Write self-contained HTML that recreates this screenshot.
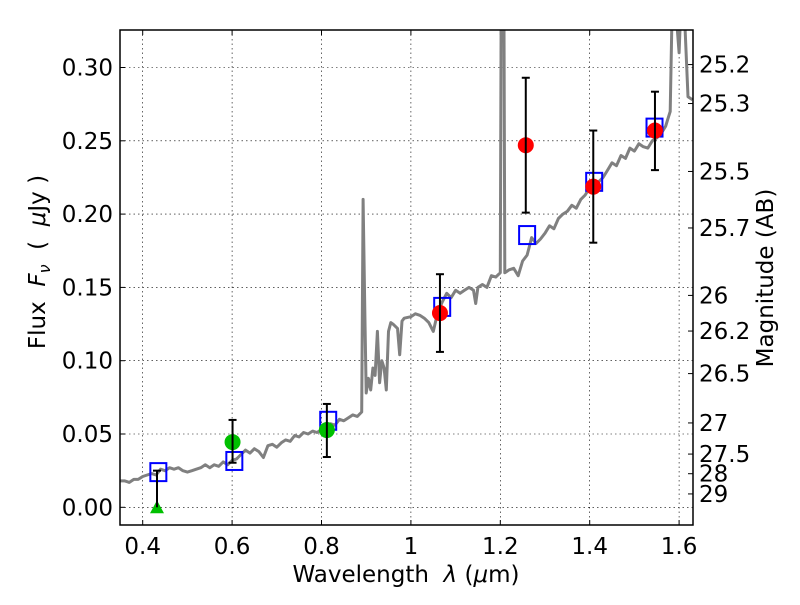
<!DOCTYPE html>
<html><head><meta charset="utf-8"><style>
body{margin:0;background:#fff}
svg text{font-family:"DejaVu Sans","Liberation Sans",sans-serif;fill:#000}
</style></head><body>
<svg id="c" width="800" height="600" xmlns="http://www.w3.org/2000/svg"></svg>
<script>
const specLam=[0.35,0.36,0.37,0.38,0.39,0.40,0.41,0.42,0.43,0.44,0.45,0.46,0.47,0.48,0.49,0.50,0.51,0.52,0.53,0.54,0.55,0.56,0.57,0.58,0.59,0.60,0.61,0.62,0.63,0.64,0.65,0.66,0.67,0.68,0.69,0.70,0.71,0.72,0.73,0.74,0.75,0.76,0.77,0.78,0.79,0.80,0.81,0.82,0.83,0.84,0.85,0.86,0.87,0.88,0.89,0.893,0.897,0.90,0.905,0.91,0.915,0.92,0.925,0.93,0.935,0.94,0.945,0.95,0.955,0.96,0.97,0.975,0.98,0.985,1.0,1.01,1.02,1.03,1.04,1.05,1.06,1.07,1.08,1.09,1.10,1.11,1.12,1.13,1.14,1.145,1.15,1.16,1.17,1.18,1.19,1.20,1.202,1.205,1.208,1.21,1.22,1.23,1.24,1.25,1.26,1.265,1.27,1.28,1.29,1.30,1.31,1.32,1.33,1.34,1.35,1.36,1.37,1.38,1.39,1.40,1.41,1.42,1.43,1.44,1.45,1.46,1.47,1.48,1.49,1.50,1.51,1.52,1.53,1.54,1.55,1.56,1.57,1.575,1.58,1.585,1.59,1.60,1.605,1.61,1.62,1.63];
const specFlux=[0.018,0.018,0.017,0.019,0.019,0.021,0.022,0.023,0.022,0.026,0.025,0.027,0.026,0.027,0.025,0.024,0.025,0.026,0.027,0.029,0.027,0.029,0.028,0.031,0.029,0.032,0.033,0.036,0.039,0.037,0.040,0.038,0.034,0.042,0.043,0.041,0.044,0.046,0.045,0.049,0.048,0.051,0.050,0.052,0.051,0.053,0.055,0.057,0.056,0.060,0.059,0.061,0.063,0.062,0.065,0.21,0.13,0.078,0.088,0.080,0.095,0.090,0.120,0.085,0.100,0.095,0.080,0.120,0.126,0.125,0.122,0.104,0.127,0.129,0.130,0.132,0.131,0.129,0.126,0.120,0.133,0.140,0.146,0.143,0.148,0.146,0.148,0.150,0.148,0.139,0.150,0.152,0.150,0.158,0.157,0.160,0.35,0.35,0.35,0.160,0.162,0.163,0.158,0.168,0.172,0.178,0.184,0.180,0.183,0.187,0.192,0.190,0.197,0.200,0.202,0.206,0.204,0.210,0.213,0.218,0.216,0.222,0.225,0.230,0.235,0.233,0.240,0.238,0.245,0.243,0.248,0.246,0.245,0.250,0.252,0.255,0.260,0.265,0.270,0.35,0.35,0.31,0.35,0.35,0.280,0.278,0.285,0.292,0.288];
const modelLam=[0.435,0.605,0.815,1.07,1.26,1.41,1.545];
const modelFlux=[0.024,0.0316,0.059,0.1367,0.1857,0.222,0.259];
const greenLam=[0.601,0.812];
const greenFlux=[0.0445,0.0527];
const greenLo=[0.0304,0.0343];
const greenHi=[0.0596,0.0705];
const limitLam=[0.432];
const limitFlux=[0.0];
const limitHi=[0.025];
const redLam=[1.065,1.257,1.408,1.546];
const redFlux=[0.1325,0.247,0.2187,0.257];
const redLo=[0.106,0.201,0.1805,0.230];
const redHi=[0.159,0.293,0.257,0.2835];
const xTicks=[0.4,0.6,0.8,1.0,1.2,1.4,1.6];
const xTickLabels=["0.4","0.6","0.8","1","1.2","1.4","1.6"];
const yTicks=[0,0.05,0.10,0.15,0.20,0.25,0.30];
const yTickLabels=["0.00","0.05","0.10","0.15","0.20","0.25","0.30"];
const magTicks=[25.2,25.3,25.5,25.7,26,26.2,26.5,27,27.5,28,29];
const magLabels=["25.2","25.3","25.5","25.7","26","26.2","26.5","27","27.5","28","29"];

const L=120,R=693,T=30,B=525;
const X=v=>142.7+(v-0.4)*447;
const Y=v=>507.3-v*1466;
const NS="http://www.w3.org/2000/svg";
const svg=document.getElementById('c');
function mk(t,a,p){const e=document.createElementNS(NS,t);for(const k in a)e.setAttribute(k,a[k]);(p||svg).appendChild(e);return e;}
const defs=mk('defs',{});const cp=mk('clipPath',{id:'clip'},defs);mk('rect',{x:L,y:T,width:R-L,height:B-T},cp);

xTicks.forEach((v,i)=>{
  const g=mk('line',{x1:X(v),x2:X(v),y1:T,y2:B,stroke:'#000','stroke-width':0.6,'stroke-dasharray':'1.5,3'});
  
  
  mk('line',{x1:X(v),x2:X(v),y1:B,y2:B-5,stroke:'#000'});
  mk('line',{x1:X(v),x2:X(v),y1:T,y2:T+5,stroke:'#000'});
  const t=mk('text',{x:X(v),y:B+29,'font-size':23,'text-anchor':'middle'});t.textContent=xTickLabels[i];
  
  
});
yTicks.forEach((v,i)=>{
  const g=mk('line',{x1:L,x2:R,y1:Y(v),y2:Y(v),stroke:'#000','stroke-width':0.6,'stroke-dasharray':'1.5,3'});
  
  
  mk('line',{x1:L,x2:L+5,y1:Y(v),y2:Y(v),stroke:'#000'});
  const t=mk('text',{x:113,y:Y(v)+8,'font-size':23,'text-anchor':'end'});t.textContent=yTickLabels[i];
  
  
});
magTicks.forEach((m,i)=>{
  const f=Math.pow(10,(23.9-m)/2.5);const y=Y(f);
  mk('line',{x1:R,x2:R-5,y1:y,y2:y,stroke:'#000'});
  const t=mk('text',{x:699,y:y+8,'font-size':23});t.textContent=magLabels[i];
  
  
});

const gp=mk('g',{'clip-path':'url(#clip)'});
const sp=mk('polyline',{points:specLam.map((l,i)=>X(l).toFixed(1)+','+Y(specFlux[i]).toFixed(1)).join(' '),fill:'none',stroke:'#808080','stroke-width':3,'stroke-linejoin':'round'},gp);



modelLam.forEach((l,i)=>{
  const r=mk('rect',{x:X(l)-8,y:Y(modelFlux[i])-9,width:16,height:18,fill:'none',stroke:'#0000ff','stroke-width':2},gp);
  
  
});
function err(x,lo,hi){
  mk('line',{x1:x,x2:x,y1:Y(lo),y2:Y(hi),stroke:'#000','stroke-width':2},gp);
  mk('line',{x1:x-4,x2:x+4,y1:Y(lo),y2:Y(lo),stroke:'#000','stroke-width':2},gp);
  mk('line',{x1:x-4,x2:x+4,y1:Y(hi),y2:Y(hi),stroke:'#000','stroke-width':2},gp);
}
greenLam.forEach((l,i)=>{
  const c=mk('circle',{cx:X(l),cy:Y(greenFlux[i]),r:8,fill:'#00c000'},gp);
  
  
  err(X(l),greenLo[i],greenHi[i]);
});
limitLam.forEach((l,i)=>{
  const x=X(l),y=Y(limitFlux[i]);
  const p=mk('polygon',{points:`${x-7},${y+6} ${x+7},${y+6} ${x},${y-7}`,fill:'#00c000'},gp);
  
  
  mk('line',{x1:x,x2:x,y1:y,y2:Y(limitHi[i]),stroke:'#000','stroke-width':2},gp);
  mk('line',{x1:x-4,x2:x+4,y1:Y(limitHi[i]),y2:Y(limitHi[i]),stroke:'#000','stroke-width':2},gp);
});
redLam.forEach((l,i)=>{
  const c=mk('circle',{cx:X(l),cy:Y(redFlux[i]),r:8,fill:'#ff0000'},gp);
  
  
  err(X(l),redLo[i],redHi[i]);
});

const fr=mk('rect',{x:L,y:T,width:R-L,height:B-T,fill:'none',stroke:'#000','stroke-width':1.5});


</script>
<svg width="800" height="600" style="position:absolute;left:0;top:0" xmlns="http://www.w3.org/2000/svg">
<text x="406" y="582" font-size="23" text-anchor="middle" xml:space="preserve">Wavelength  <tspan font-style="italic">λ</tspan> (<tspan font-style="italic">μ</tspan>m)</text>
<text transform="translate(45,262) rotate(-90)" font-size="23" text-anchor="middle" xml:space="preserve">Flux  <tspan font-style="italic">F</tspan><tspan font-style="italic" font-size="16" dy="5">ν</tspan><tspan dy="-5">  (  </tspan><tspan font-style="italic">μ</tspan>Jy )</text>
<text transform="translate(773,278) rotate(-90)" font-size="23" text-anchor="middle">Magnitude (AB)</text>
</svg>
</body></html>
